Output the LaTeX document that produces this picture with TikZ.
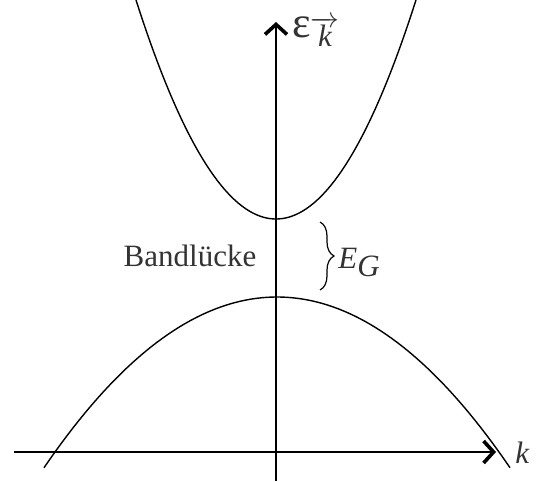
\documentclass[tikz,border=0pt]{standalone}
\usepackage{fontspec}
\setmainfont{Liberation Serif}
\usetikzlibrary{arrows.meta,decorations.pathreplacing}
\tikzset{
  axis/.style={line width=0.75pt, -{Straight Barb[length=5pt, width=11pt, line width=1.8pt]}},
  band/.style={line width=0.7pt},
  lbl/.style={text=black!80, font=\fontsize{15.5}{18}\selectfont, inner sep=0pt}
}
\begin{document}
\begin{tikzpicture}[x=0.5pt,y=-0.5pt]
\useasboundingbox (0,0) rectangle (536,482);
% axes
\coordinate (xs) at (14,452);
\coordinate (xe) at (496,452);
\coordinate (ys) at (276,481);
\coordinate (ye) at (276,22);
\draw[axis] (xs) -- (xe);
\draw[axis] (ys) -- (ye);
\node[lbl, anchor=west] (klab) at (515,453) {\textit{k}};
\node[lbl, anchor=base west] (elab) at (292,37) {{\fontsize{22}{24}\selectfont ε}\raisebox{-5pt}{$\overrightarrow{\mbox{\textit{k}}}$}};
% bands
\draw[band] plot[domain=136:416, samples=80] (\x, {219-111.73*((\x-276)/100)^2});
\draw[band] plot[domain=44:510, samples=80] (\x, {297+31.45*((\x-277)/100)^2});
% gap
\coordinate (gt) at (320,222);
\coordinate (gb) at (320,290);
\draw[line width=0.6pt, decorate, decoration={brace, amplitude=7pt}] (gt) -- (gb);
\node[lbl, anchor=base west] (eg) at (338,268) {\textit{E}\raisebox{-4pt}{\textit{G}}};
\node[lbl] (gap) at (190,256) {Bandlücke};
\end{tikzpicture}
\end{document}
